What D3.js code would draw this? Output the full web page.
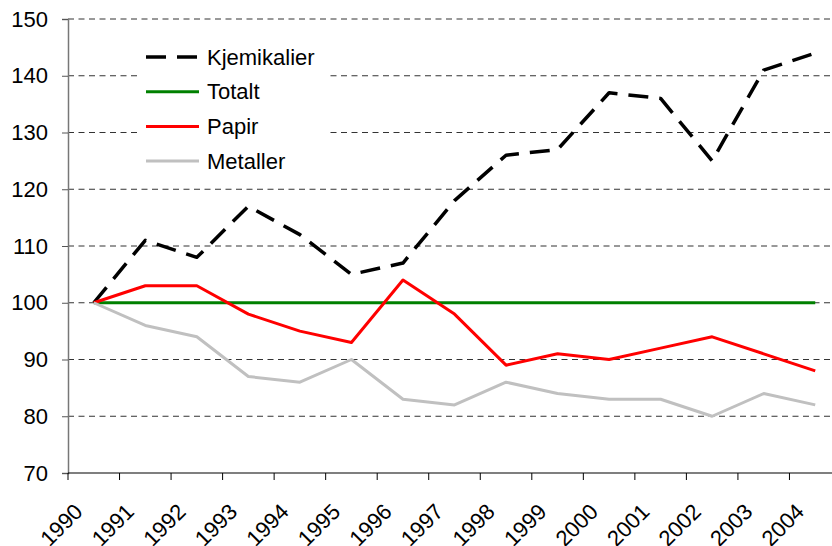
<!DOCTYPE html>
<html>
<head>
<meta charset="utf-8">
<script src="https://cdn.jsdelivr.net/npm/d3@7"></script>
<style>
  body { margin: 0; background: #fff; }
  text { font-family: "Liberation Sans", Arial, sans-serif; fill: #000; }
</style>
</head>
<body>
<div id="chart"></div>
<script>
// data
var years = ["1990","1991","1992","1993","1994","1995","1996","1997","1998","1999","2000","2001","2002","2003","2004"];
var kjemikalier = [100, 111, 108, 117, 112, 105, 107, 118, 126, 127, 137, 136, 125, 141, 144];
var totalt      = [100, 100, 100, 100, 100, 100, 100, 100, 100, 100, 100, 100, 100, 100, 100];
var papir       = [100, 103, 103, 98, 95, 93, 104, 98, 89, 91, 90, 92, 94, 91, 88];
var metaller    = [100, 96, 94, 87, 86, 90, 83, 82, 86, 84, 83, 83, 80, 84, 82];
var yTicks = [70, 80, 90, 100, 110, 120, 130, 140, 150];

var series = [
  { name: "Kjemikalier", values: kjemikalier, color: "#000", width: 3.5, dash: "20,11" },
  { name: "Totalt",      values: totalt,      color: "#008000", width: 3, dash: null },
  { name: "Papir",       values: papir,       color: "#ff0000", width: 3, dash: null },
  { name: "Metaller",    values: metaller,    color: "#c0c0c0", width: 3, dash: null }
];

var W = 832, H = 546;
var margin = { left: 68, right: 841, top: 19, bottom: 473 };
var fontSize = "22px";

var svg = d3.select("#chart").append("svg")
    .attr("width", W)
    .attr("height", H);

var x = d3.scaleBand()
    .domain(years)
    .range([margin.left, margin.right]);
var y = d3.scaleLinear()
    .domain([70, 150])
    .range([margin.bottom, margin.top]);

// gridlines
svg.append("g")
  .selectAll("line")
  .data(yTicks.filter(function(d) { return d > 70; }))
  .enter().append("line")
    .attr("x1", margin.left)
    .attr("x2", W)
    .attr("y1", function(d) { return y(d); })
    .attr("y2", function(d) { return y(d); })
    .attr("stroke", "#333")
    .attr("stroke-width", 1)
    .attr("stroke-dasharray", "6,4.5");

// y axis
var yAxis = svg.append("g")
    .attr("transform", "translate(" + margin.left + ",0)")
    .call(d3.axisLeft(y).tickValues(yTicks).tickSize(6).tickPadding(14));
yAxis.select(".domain").attr("stroke", "#777").attr("stroke-width", 1.5);
yAxis.selectAll(".tick line").attr("stroke", "#555");
yAxis.selectAll("text")
    .style("font-size", fontSize)
    .style("font-family", "Liberation Sans, Arial, sans-serif")
    .attr("fill", "#000");

// x axis (ticks at the band edges)
var xAxis = svg.append("g")
    .attr("transform", "translate(0," + margin.bottom + ")");
xAxis.append("line")
    .attr("x1", margin.left).attr("x2", W)
    .attr("y1", 0).attr("y2", 0)
    .attr("stroke", "#000").attr("stroke-width", 1.2);
xAxis.selectAll(".xtick")
  .data(years)
  .enter().append("line")
    .attr("class", "xtick")
    .attr("x1", function(d) { return x(d); })
    .attr("x2", function(d) { return x(d); })
    .attr("y1", 0).attr("y2", 7)
    .attr("stroke", "#000");
xAxis.selectAll(".xlabel")
  .data(years)
  .enter().append("text")
    .attr("class", "xlabel")
    .attr("text-anchor", "end")
    .attr("transform", function(d) {
      return "translate(" + (x(d) + 16) + ",40) rotate(-45)";
    })
    .style("font-size", fontSize)
    .text(function(d) { return d; });

// lines
var line = d3.line()
    .x(function(d, i) { return x(years[i]) + x.bandwidth() / 2; })
    .y(function(d) { return y(d); });

svg.append("g")
  .selectAll("path")
  .data(series)
  .enter().append("path")
    .attr("d", function(s) { return line(s.values); })
    .attr("fill", "none")
    .attr("stroke", function(s) { return s.color; })
    .attr("stroke-width", function(s) { return s.width; })
    .attr("stroke-dasharray", function(s) { return s.dash; })
    .attr("stroke-linejoin", "round");

// legend
var legend = svg.append("g");
legend.append("rect")
    .attr("x", 138).attr("y", 32)
    .attr("width", 190).attr("height", 146)
    .attr("fill", "#fff");

var item = legend.selectAll(".item")
  .data(series)
  .enter().append("g")
    .attr("class", "item")
    .attr("transform", function(d, i) { return "translate(146," + (57 + i * 34.7) + ")"; });
item.append("line")
    .attr("x1", 0).attr("x2", 53)
    .attr("stroke", function(s) { return s.color; })
    .attr("stroke-width", function(s) { return s.width; })
    .attr("stroke-dasharray", function(s) { return s.dash; });
item.append("text")
    .attr("x", 61)
    .attr("dy", "0.35em")
    .style("font-size", fontSize)
    .text(function(s) { return s.name; });
</script>
</body>
</html>
